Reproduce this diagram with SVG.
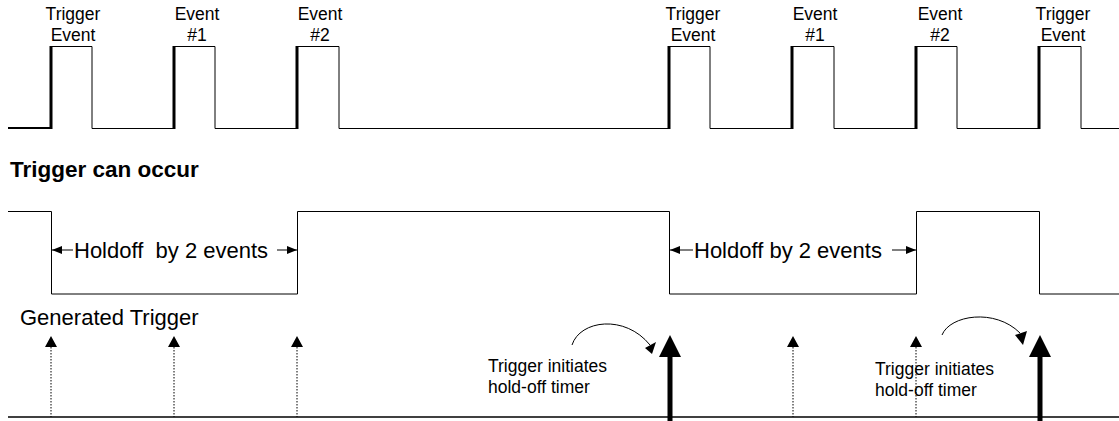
<svg xmlns="http://www.w3.org/2000/svg" width="1119" height="421" viewBox="0 0 1119 421">
<style>
text{font-family:"Liberation Sans",Arial,sans-serif;fill:#000}
.sm{font-size:17.5px}
.lg{font-size:22px}
.bd{font-size:22.5px;font-weight:bold}
.thin{fill:none;stroke:#000;stroke-width:1}
.rise{fill:none;stroke:#000;stroke-width:3}
.dot{fill:none;stroke:#000;stroke-width:1;stroke-dasharray:1.5,1.5}
.bold{fill:none;stroke:#000;stroke-width:5}
.head{fill:#000;stroke:none}
</style>
<defs>
<marker id="ah" viewBox="0 0 10 8" refX="10" refY="4" markerWidth="10" markerHeight="8" markerUnits="userSpaceOnUse" orient="auto"><path d="M0,0 L10,4 L0,8 Z" fill="#000"/></marker>
</defs>
<g id="labels">
<text class="sm" x="73" y="20" text-anchor="middle">Trigger</text>
<text class="sm" x="73" y="41" text-anchor="middle">Event</text>
<text class="sm" x="197" y="20" text-anchor="middle">Event</text>
<text class="sm" x="197" y="41" text-anchor="middle">#1</text>
<text class="sm" x="320" y="20" text-anchor="middle">Event</text>
<text class="sm" x="320" y="41" text-anchor="middle">#2</text>
<text class="sm" x="693" y="20" text-anchor="middle">Trigger</text>
<text class="sm" x="693" y="41" text-anchor="middle">Event</text>
<text class="sm" x="815" y="20" text-anchor="middle">Event</text>
<text class="sm" x="815" y="41" text-anchor="middle">#1</text>
<text class="sm" x="940" y="20" text-anchor="middle">Event</text>
<text class="sm" x="940" y="41" text-anchor="middle">#2</text>
<text class="sm" x="1063" y="20" text-anchor="middle">Trigger</text>
<text class="sm" x="1063" y="41" text-anchor="middle">Event</text>
<text class="bd" x="10" y="177">Trigger can occur</text>
<text class="lg" x="20" y="325">Generated Trigger</text>
</g>
<g id="event-signal">
<path d="M8,128 H51" fill="none" stroke="#000" stroke-width="2"/>
<path class="thin" d="M51,46.5 H92 V128.5 H174 M174,46.5 H215 V128.5 H297 M297,46.5 H339 V128.5 H669 M669,46.5 H710 V128.5 H792 M792,46.5 H834 V128.5 H916 M916,46.5 H957 V128.5 H1039 M1039,46.5 H1081 V128.5 H1119"/>
<path class="rise" d="M51,129 V46 M174,129 V46 M297,129 V46 M669,129 V46 M792,129 V46 M916,129 V46 M1039,129 V46"/>
</g>
<g id="holdoff-signal">
<path class="thin" d="M8,211.5 H51.5 V294 H297.5 V211.5 H669.5 V294 H916.5 V211.5 H1039.5 V294 H1119" stroke-width="1.2"/>
</g>
<g id="holdoff-1">
<line class="thin" x1="73" y1="250" x2="52" y2="250" marker-end="url(#ah)"/>
<text class="lg" x="74" y="258" xml:space="preserve">Holdoff  by 2 events</text>
<line class="thin" x1="277" y1="250" x2="297" y2="250" marker-end="url(#ah)"/>
</g>
<g id="holdoff-2">
<line class="thin" x1="693" y1="250" x2="670" y2="250" marker-end="url(#ah)"/>
<text class="lg" x="694" y="258">Holdoff by 2 events</text>
<line class="thin" x1="892" y1="250" x2="916" y2="250" marker-end="url(#ah)"/>
</g>
<g id="generated-trigger">
<line x1="8" y1="417" x2="1119" y2="417" stroke="#000" stroke-width="1.5"/>
<path class="dot" d="M51,347 V417 M174,347 V417 M297,347 V417 M793,347 V417 M916,347 V417"/>
<path class="head" d="M51,336 L45,347 L57,347 Z M174,336 L168,347 L180,347 Z M297,336 L291,347 L303,347 Z M793,336 L787,347 L799,347 Z M916,336 L910,347 L922,347 Z"/>
<path class="bold" d="M670,356 V421 M1040,356 V421"/>
<path class="head" d="M670,335 L659,357 L681,357 Z M1040,335 L1029,357 L1051,357 Z"/>
</g>
<g id="annotation-1">
<path class="thin" d="M572,345 C580,320 625,314 650,345"/>
<path class="head" d="M652,354 L645,348 L656,342 Z"/>
<text class="sm" x="488" y="372">Trigger initiates</text>
<text class="sm" x="488" y="393">hold-off timer</text>
</g>
<g id="annotation-2">
<path class="thin" d="M942,335 C950,315 995,308 1020,333"/>
<path class="head" d="M1023,345 L1015,335 L1027,331 Z"/>
<text class="sm" x="875" y="375">Trigger initiates</text>
<text class="sm" x="875" y="396">hold-off timer</text>
</g>
</svg>
